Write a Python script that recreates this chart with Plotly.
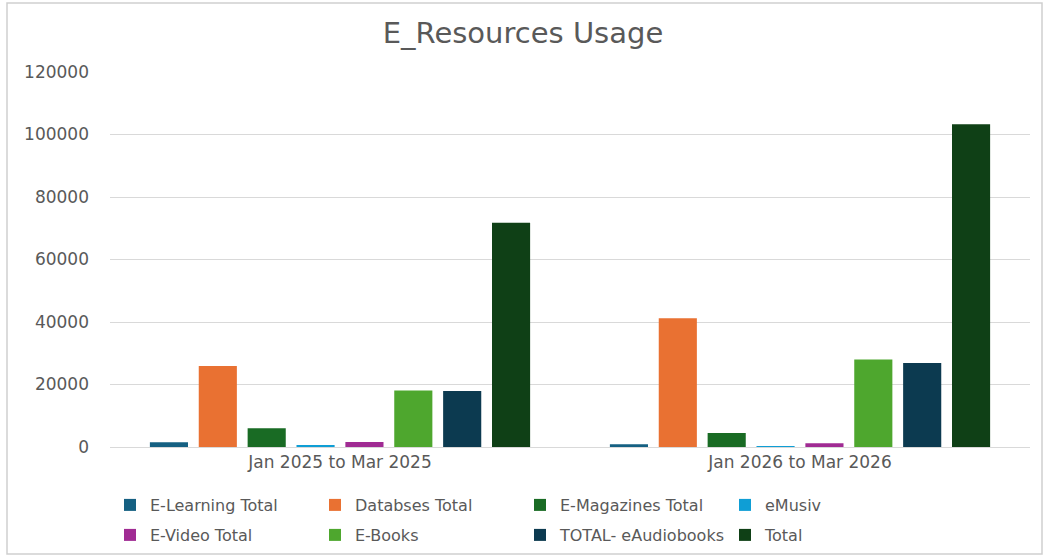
import plotly.graph_objects as go

# Reporting periods shown on the x axis
periods = ["Jan 2025 to Mar 2025", "Jan 2026 to Mar 2026"]

# Usage counts per resource type, one value per period
e_learning = [1500, 900]
databases = [25900, 41200]
e_magazines = [6000, 4500]
e_music = [400, 300]
e_video = [1600, 1200]
e_books = [18100, 28000]
e_audiobooks = [17900, 26900]
total = [71800, 103300]

y_ticks = [0, 20000, 40000, 60000, 80000, 100000, 120000]
y_tick_text = ["0", "20000", "40000", "60000", "80000", "100000", "120000"]

series = [
    ("E-Learning Total", e_learning, "#156082"),
    ("Databses Total", databases, "#E97132"),
    ("E-Magazines Total", e_magazines, "#196B24"),
    ("eMusiv", e_music, "#0F9ED5"),
    ("E-Video Total", e_video, "#A02B93"),
    ("E-Books", e_books, "#4EA72E"),
    ("TOTAL- eAudiobooks", e_audiobooks, "#0C3A50"),
    ("Total", total, "#0F4016"),
]

font_family = "DejaVu Sans"
grey = "#595959"
W, H = 1046, 556

fig = go.Figure()
for i, (name, values, color) in enumerate(series):
    # first four entries go on the upper legend row, the rest on the lower one
    fig.add_trace(go.Bar(name=name, x=periods, y=values, marker_color=color,
                         marker_line_width=0,
                         legend="legend" if i < 4 else "legend2"))

legend_common = dict(orientation="h", xref="container", yref="container",
                     x=110 / W, xanchor="left", yanchor="middle",
                     entrywidth=160, entrywidthmode="pixels",
                     bgcolor="rgba(0,0,0,0)", itemwidth=30,
                     font=dict(size=16, color=grey, family=font_family),
                     traceorder="normal")

fig.update_layout(
    width=W, height=H,
    paper_bgcolor="white", plot_bgcolor="white",
    margin=dict(l=110, r=16, t=72, b=109, autoexpand=False),
    barmode="group", bargap=0.15, bargroupgap=0.22,
    font=dict(family=font_family, color=grey, size=16),
    title=dict(text="E_Resources Usage", x=0.5, xanchor="center",
               y=1 - 33 / H, yanchor="middle",
               font=dict(size=29, color=grey, family=font_family)),
    legend=dict(y=1 - 505 / H, **legend_common),
    legend2=dict(y=1 - 535 / H, **legend_common),
    showlegend=True,
)
fig.update_yaxes(range=[0, 120000], tickvals=y_ticks, ticktext=y_tick_text,
                 showgrid=True, gridcolor="#d9d9d9", gridwidth=1,
                 zeroline=False, showline=False, ticklabelstandoff=20,
                 tickfont=dict(size=17, color=grey))
fig.update_xaxes(showline=True, linecolor="#d9d9d9", linewidth=1,
                 tickfont=dict(size=17, color=grey), ticks="")

# light outer frame of the chart area
fig.add_shape(type="rect", xref="paper", yref="paper",
              x0=-103 / 920, x1=1 + 12 / 920, y0=-107 / 375, y1=1 + 69 / 375,
              line=dict(color="#cfcfcf", width=1.5), fillcolor="rgba(0,0,0,0)")

fig.write_html("out.html")
